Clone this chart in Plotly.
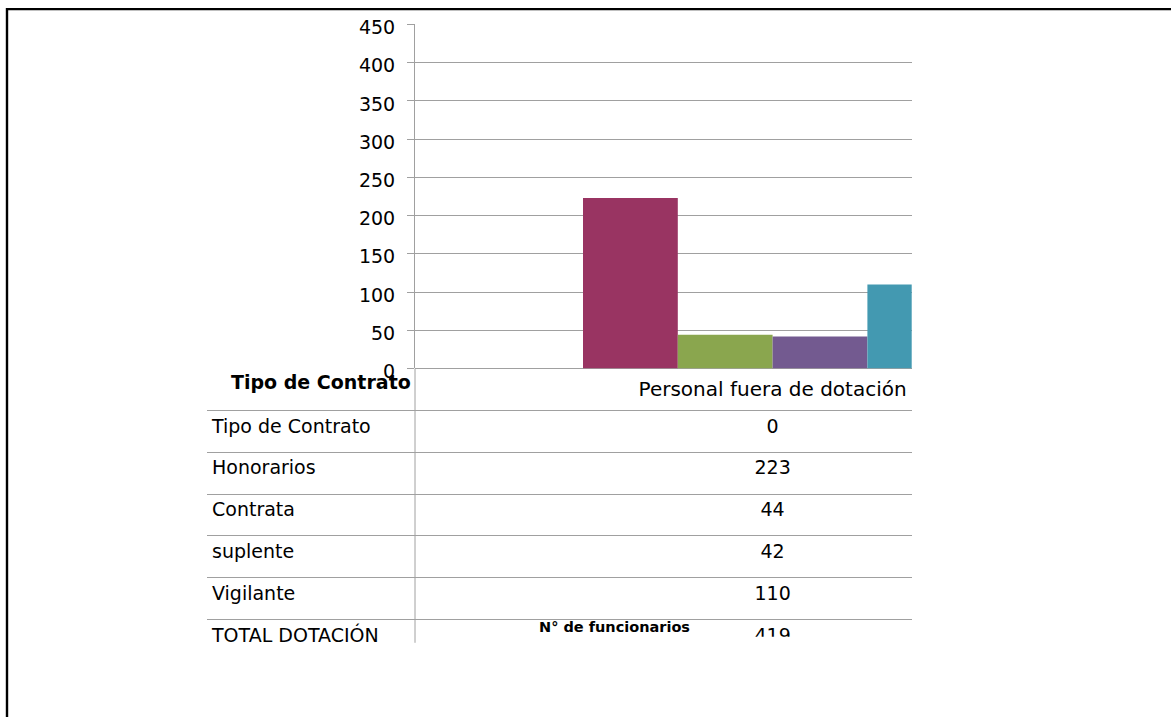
import plotly.graph_objects as go

# ---------------- data ----------------
category = ["Personal fuera de dotación"]
series_names = ["Tipo de Contrato", "Honorarios", "Contrata", "suplente", "Vigilante", "TOTAL DOTACIÓN"]
series_values = [0, 223, 44, 42, 110, 419]
series_colors = ["#4A7EBB", "#993462", "#8AA64E", "#735A90", "#4399B1", "#F79646"]
y_ticks = [0, 50, 100, 150, 200, 250, 300, 350, 400, 450]
table_header = "Tipo de Contrato"
value_axis_title = "N° de funcionarios"

# ---------------- layout geometry ----------------
W, H = 1171, 717
# the capture maps figure y -> A + B*y ; compensate so reference pixels line up
A, B = 10.9, 0.9637


def vy(py):
    """reference pixel row -> figure pixel row"""
    return (py - A) / B


def fx(px):
    return px / W


def fy(py):
    return 1 - vy(py) / H


PLOT_L, PLOT_R = 415, 911.7
PLOT_T, PLOT_B = 27.3, 369.3
TABLE_L = 207
ROW0 = 410.8
ROW_H = 41.65
LABEL_CLIP = 642
VALUE_CLIP = 636
GROUP_CENTER = 772.6
BAR_W = 94.8
BARGAP = 0.4
GRID = "#A0A0A0"
FONT = "DejaVu Sans"
FS = 19


def row_units(py):
    return (py - ROW0) / ROW_H


scale = BAR_W * len(series_names) / (1 - BARGAP)
x_range = [-(GROUP_CENTER - PLOT_L) / scale, (PLOT_R - GROUP_CENTER) / scale]

fig = go.Figure()

for name, val, col in zip(series_names, series_values, series_colors):
    fig.add_trace(go.Bar(
        x=category, y=[val], name=name,
        marker=dict(color=col, line=dict(width=0)),
        showlegend=False, hoverinfo="skip",
    ))

n = len(series_names)
row_y = [i + 0.42 for i in range(n)]

# table: row labels
fig.add_trace(go.Scatter(
    x=[5] * n, y=row_y, text=series_names, mode="text",
    textposition="middle right",
    textfont=dict(family=FONT, size=FS, color="black"),
    xaxis="x2", yaxis="y2", showlegend=False, hoverinfo="skip",
    cliponaxis=True,
))
# table: values
fig.add_trace(go.Scatter(
    x=[GROUP_CENTER - PLOT_L] * n, y=row_y, text=[str(v) for v in series_values],
    mode="text", textposition="middle center",
    textfont=dict(family=FONT, size=FS, color="black"),
    xaxis="x3", yaxis="y3", showlegend=False, hoverinfo="skip",
    cliponaxis=True,
))

fig.update_layout(
    width=W, height=H, autosize=False,
    margin=dict(l=0, r=0, t=0, b=0, pad=0),
    paper_bgcolor="white", plot_bgcolor="white",
    barmode="group", bargap=BARGAP, bargroupgap=0,
    xaxis=dict(
        type="category", range=x_range,
        domain=[fx(PLOT_L), fx(PLOT_R)],
        showgrid=False, zeroline=False, showline=False, ticks="",
        ticklabelstandoff=7,
        tickfont=dict(family=FONT, size=20, color="black"),
        anchor="y",
    ),
    yaxis=dict(
        range=[0, 450], tickvals=y_ticks,
        domain=[fy(PLOT_B), fy(PLOT_T)],
        showgrid=True, gridcolor=GRID, gridwidth=1,
        zeroline=True, zerolinecolor=GRID, zerolinewidth=1,
        showline=True, linecolor=GRID, linewidth=1,
        ticks="outside", ticklen=7, tickcolor=GRID, tickwidth=1,
        ticklabelstandoff=8, ticklabelshift=3,
        tickfont=dict(family=FONT, size=FS, color="black"),
        anchor="x",
    ),
    xaxis2=dict(
        domain=[fx(TABLE_L), fx(PLOT_L)], range=[0, PLOT_L - TABLE_L],
        visible=False, anchor="y2",
    ),
    yaxis2=dict(
        domain=[fy(LABEL_CLIP), fy(PLOT_B)],
        range=[row_units(LABEL_CLIP), row_units(PLOT_B)],
        tickvals=list(range(n)), showticklabels=False, ticks="",
        showgrid=True, gridcolor=GRID, gridwidth=1,
        zeroline=False, showline=False, anchor="x2",
    ),
    xaxis3=dict(
        domain=[fx(PLOT_L), fx(PLOT_R)], range=[0, PLOT_R - PLOT_L],
        visible=False, anchor="y3",
    ),
    yaxis3=dict(
        domain=[fy(VALUE_CLIP), fy(PLOT_B)],
        range=[row_units(VALUE_CLIP), row_units(PLOT_B)],
        tickvals=list(range(n)), showticklabels=False, ticks="",
        showgrid=True, gridcolor=GRID, gridwidth=1,
        zeroline=False, showline=False, anchor="x3",
    ),
    shapes=[
        dict(type="line", xref="paper", yref="paper",
             x0=fx(PLOT_L), x1=fx(PLOT_L), y0=fy(PLOT_B), y1=fy(LABEL_CLIP),
             line=dict(color=GRID, width=1)),
        dict(type="line", xref="paper", yref="paper",
             x0=fx(6), x1=fx(W + 5), y0=1 - 1.2 / H, y1=1 - 1.2 / H,
             line=dict(color="black", width=2.4)),
        dict(type="line", xref="paper", yref="paper",
             x0=fx(7), x1=fx(7), y0=1, y1=fy(H + 20),
             line=dict(color="black", width=2.4)),
    ],
    annotations=[
        dict(text=table_header, x=fx(413), y=fy(383), xref="paper", yref="paper",
             xanchor="right", yanchor="middle", showarrow=False,
             font=dict(family=FONT, size=19, color="black", weight="bold")),
        dict(text=value_axis_title, x=fx(615), y=fy(626), xref="paper", yref="paper",
             xanchor="center", yanchor="middle", showarrow=False,
             font=dict(family=FONT, size=14.5, color="black", weight="bold")),
    ],
)

post = """
var de = document.documentElement, b = document.body;
de.style.margin = '0'; de.style.padding = '0'; de.style.overflow = 'hidden';
b.style.margin = '0'; b.style.padding = '0'; b.style.overflow = 'hidden';
"""

fig.write_html(
    "out.html",
    config={"displayModeBar": False},
    post_script=post,
)
